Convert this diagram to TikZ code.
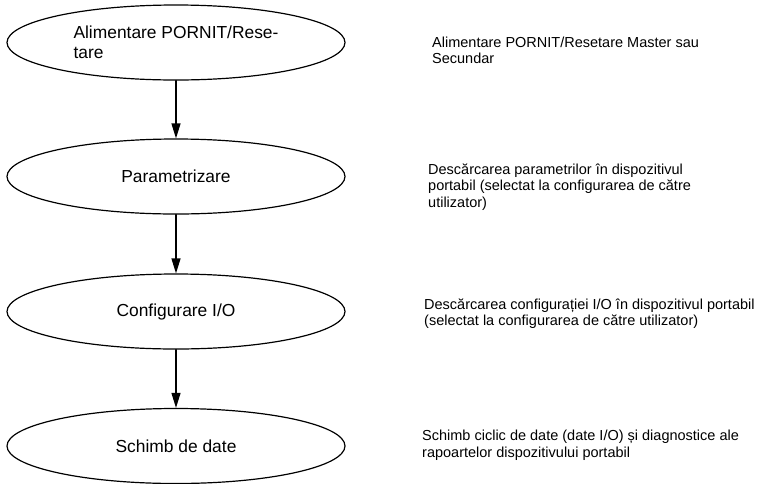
\documentclass[tikz,border=0pt]{standalone}
\usepackage{fontspec}
\setmainfont{Liberation Sans}
\usetikzlibrary{arrows.meta,shapes.geometric}

\begin{document}
\begin{tikzpicture}[line cap=round,line join=round,>={Triangle[length=15pt,width=9pt]},x=1pt,y=-1pt,
		etapa/.style={draw,ellipse,line width=1.2pt,minimum width=338pt,minimum height=75pt,inner sep=0pt,font=\fontsize{17.4}{20.5}\selectfont,align=left},
		nota/.style={anchor=west,inner sep=0pt,font=\fontsize{14.5}{16.5}\selectfont,align=left}]
			\useasboundingbox (0,0) rectangle (761,483);
			%etape
			\node[etapa] (alim) at (176,42.5) {Alimentare PORNIT/Rese-\\tare};
			\node[etapa] (param) at (176,176.5) {Parametrizare};
			\node[etapa] (config) at (176,311.5) {Configurare I/O};
			\node[etapa] (schimb) at (176,446) {Schimb de date};
			\draw[line width=1.2pt,->] (alim)--(param);
			\draw[line width=1.2pt,->] (param)--(config);
			\draw[line width=1.2pt,->] (config)--(schimb);
			%descrieri
			\node[nota] (nalim) at (432,50.5) {Alimentare PORNIT/Resetare Master sau\\Secundar};
			\node[nota] (nparam) at (428,187) {Descărcarea parametrilor în dispozitivul\\portabil (selectat la configurarea de către\\utilizator)};
			\node[nota] (nconfig) at (424,313.5) {Descărcarea configurației I/O în dispozitivul portabil\\(selectat la configurarea de către utilizator)};
			\node[nota] (nschimb) at (422,445) {Schimb ciclic de date (date I/O) și diagnostice ale\\rapoartelor dispozitivului portabil};
\end{tikzpicture}
\end{document}
